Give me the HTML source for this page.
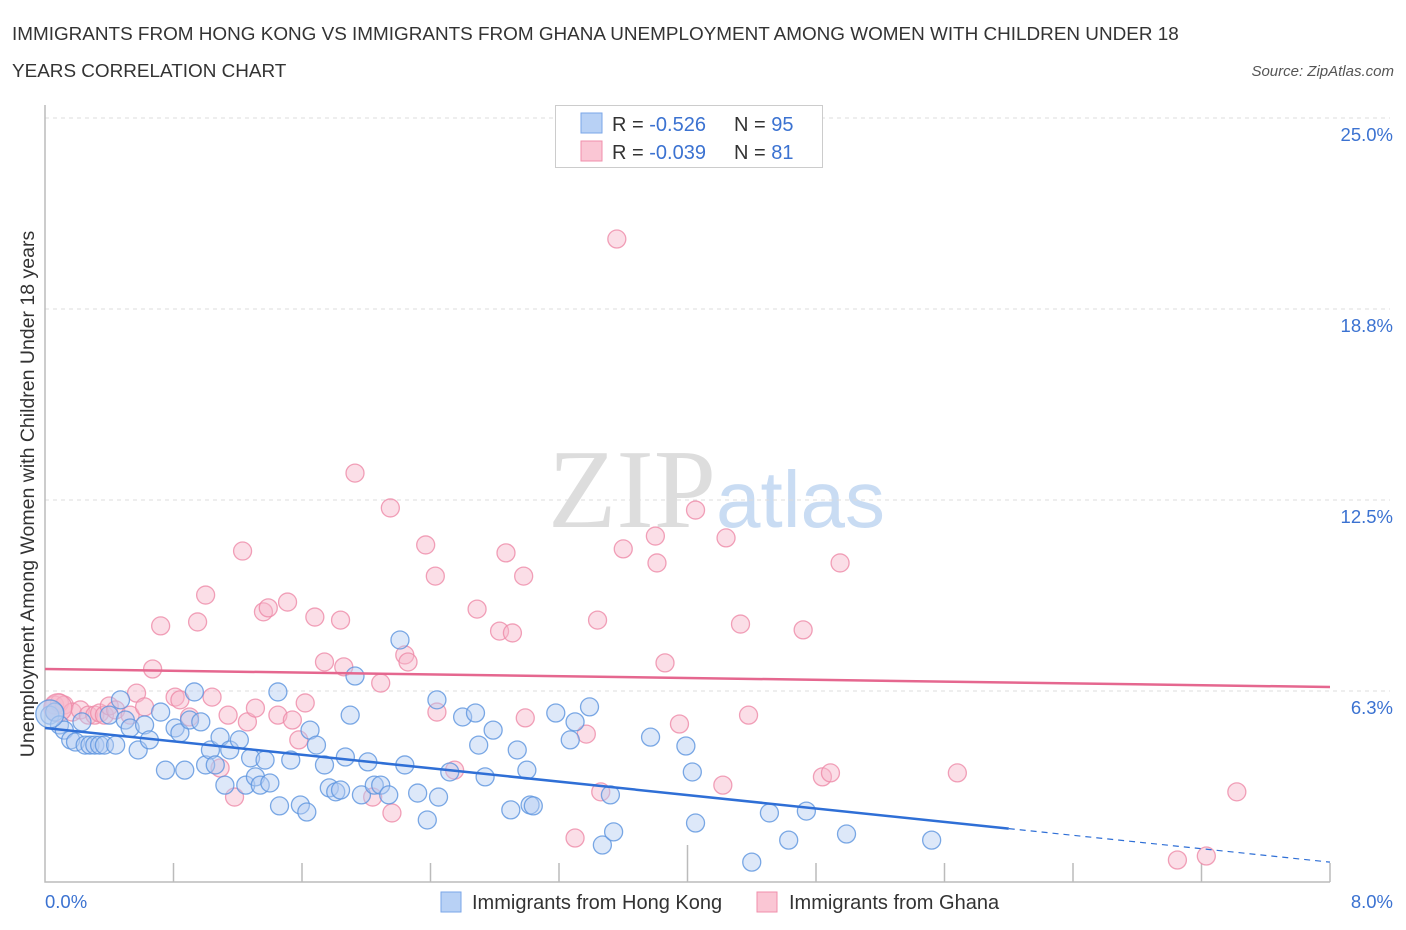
<!DOCTYPE html>
<html><head><meta charset="utf-8">
<style>
body{margin:0;background:#fff;font-family:"Liberation Sans",sans-serif;}
svg{display:block}
</style></head>
<body>
<svg id="chart" width="1406" height="930" xmlns="http://www.w3.org/2000/svg">
<text x="12" y="40" font-size="18.9" fill="#333">IMMIGRANTS FROM HONG KONG VS IMMIGRANTS FROM GHANA UNEMPLOYMENT AMONG WOMEN WITH CHILDREN UNDER 18</text>
<text x="12" y="77" font-size="18.9" fill="#333">YEARS CORRELATION CHART</text>
<text x="1394" y="76" font-size="15" fill="#555" font-style="italic" text-anchor="end">Source: ZipAtlas.com</text>
<text x="716" y="527" font-size="112" fill="#ddd" text-anchor="end" font-family="Liberation Serif,serif">ZIP</text>
<text x="716" y="527" font-size="80" fill="#c9dcf3">atlas</text>
<g id="grid"></g>
<g id="axes"></g>
<g id="pts"></g>
<g id="lines"></g>
<text transform="translate(34,494) rotate(-90)" font-size="19.5" fill="#333" text-anchor="middle">Unemployment Among Women with Children Under 18 years</text>
<g>
<rect x="555.5" y="105.5" width="267" height="62" fill="#fff" stroke="#ccc"/>
<rect x="581" y="113" width="21" height="20" fill="#b8d1f5" stroke="#7aa6e8"/>
<rect x="581" y="141" width="21" height="20" fill="#fac6d4" stroke="#f08fab"/>
<text x="612" y="131" font-size="20" fill="#333">R = <tspan fill="#3b72d1">-0.526</tspan><tspan x="734">N = </tspan><tspan fill="#3b72d1">95</tspan></text>
<text x="612" y="159" font-size="20" fill="#333">R = <tspan fill="#3b72d1">-0.039</tspan><tspan x="734">N = </tspan><tspan fill="#3b72d1"> 81</tspan></text>
</g>
<g>
<rect x="441" y="892" width="20" height="20" fill="#b8d1f5" stroke="#7aa6e8"/>
<text x="472" y="909" font-size="20" fill="#333">Immigrants from Hong Kong</text>
<rect x="757" y="892" width="20" height="20" fill="#fac6d4" stroke="#f08fab"/>
<text x="789" y="909" font-size="20" fill="#333">Immigrants from Ghana</text>
</g>
</svg>
<script>
const yTicks=[6.25,12.5,18.75,25];
const yTickLabels=["6.3%","12.5%","18.8%","25.0%"];
const xTickLabels=["0.0%","8.0%"];
const hkX=[0.03,0.06,0.09,0.12,0.16,0.19,0.25,0.28,0.31,0.34,0.37,0.44,0.23,0.40,0.50,0.53,0.47,0.58,0.62,0.65,0.72,0.75,0.81,0.84,0.87,0.90,0.93,0.97,1.00,1.03,1.06,1.09,1.12,1.15,1.21,1.25,1.28,1.31,1.34,1.37,1.40,1.45,1.46,1.53,1.59,1.63,1.65,1.69,1.74,1.77,1.81,1.84,1.87,1.90,1.93,1.97,2.01,2.05,2.09,2.14,2.21,2.24,2.32,2.38,2.44,2.45,2.52,2.60,2.68,2.70,2.74,2.79,2.90,2.94,3.00,3.02,3.04,3.18,3.27,3.30,3.39,3.47,3.52,3.54,3.77,3.99,4.03,4.05,4.40,4.51,4.63,4.74,4.99,5.52,0.03];
const hkY=[5.46,5.56,5.14,4.97,4.65,4.58,4.48,4.48,4.48,4.48,4.48,4.48,5.24,5.46,5.30,5.04,5.96,4.32,5.14,4.65,5.56,3.66,5.04,4.88,3.66,5.30,6.22,5.24,3.83,4.32,3.83,4.74,3.17,4.32,4.65,3.17,4.06,3.44,3.17,3.99,3.24,6.22,2.49,3.99,2.52,2.29,4.97,4.48,3.83,3.08,2.95,3.01,4.09,5.46,6.74,2.85,3.93,3.17,3.17,2.85,7.92,3.83,2.91,2.03,5.96,2.78,3.60,5.40,5.53,4.48,3.44,4.97,2.36,4.32,3.66,2.52,2.49,5.53,4.65,5.24,5.73,1.21,2.85,1.64,4.74,4.45,3.60,1.93,0.65,2.26,1.37,2.32,1.57,1.37,5.5];
const ghX=[0.06,0.09,0.12,0.17,0.22,0.27,0.31,0.34,0.37,0.40,0.44,0.53,0.57,0.62,0.67,0.72,0.81,0.84,0.90,0.95,1.00,1.04,1.09,1.14,1.18,1.23,1.26,1.31,1.36,1.39,1.45,1.51,1.54,1.58,1.62,1.68,1.74,1.84,1.86,1.93,2.04,2.09,2.15,2.16,2.24,2.26,2.37,2.43,2.44,2.55,2.69,2.83,2.87,2.91,2.98,2.99,3.30,3.37,3.44,3.46,3.56,3.60,3.80,3.81,3.86,3.95,4.05,4.22,4.24,4.33,4.38,4.72,4.84,4.89,4.95,5.68,7.05,7.23,7.42,0.08];
const ghY=[5.79,5.86,5.79,5.56,5.63,5.46,5.46,5.53,5.46,5.76,5.63,5.46,6.18,5.73,6.97,8.38,6.05,5.96,5.40,8.51,9.39,6.05,3.73,5.46,2.78,10.83,5.24,5.69,8.84,8.97,5.46,9.16,5.30,4.65,5.86,8.67,7.20,8.57,7.04,13.38,2.78,6.51,12.24,2.26,7.43,7.20,11.03,10.01,5.56,3.66,8.93,8.21,10.77,8.15,10.01,5.37,1.44,4.84,8.57,2.95,21.04,10.90,11.32,10.44,7.17,5.17,12.17,3.17,11.26,8.44,5.46,8.25,3.44,3.57,10.44,3.57,0.72,0.85,2.95,5.7];
const hkTrend=[5.04,0.65]; // y at x=0 and x=8
const hkSolidEnd=6.0;
const ghTrend=[6.97,6.38];

const NS="http://www.w3.org/2000/svg";
const X0=45,X1=1330,Y0=882,Y25=118;
const sx=v=>X0+(v/8)*(X1-X0);
const sy=v=>Y0-(v/25)*(Y0-Y25);
function mk(tag,attrs,parent){const e=document.createElementNS(NS,tag);for(const k in attrs)e.setAttribute(k,attrs[k]);parent.appendChild(e);return e;}
const grid=document.getElementById('grid'),axes=document.getElementById('axes'),pts=document.getElementById('pts'),lines=document.getElementById('lines');
yTicks.forEach((t,i)=>{
  const l=mk('line',{x1:X0,x2:X1+60,y1:sy(t),y2:sy(t),stroke:'#ddd','stroke-dasharray':'4,4'},grid);
  
  
  const tx=mk('text',{x:1393,y:sy(t)+23,'font-size':18.5,fill:'#3b72d1','text-anchor':'end'},axes);
  tx.textContent=yTickLabels[i];
  
  
});
const ax=mk('path',{d:`M${X0},105 V${Y0} H${X1}`,fill:'none',stroke:'#bbb','stroke-width':1.5},axes);


for(let i=1;i<=10;i++){
  const x=sx(i*0.8);
  const tk=mk('line',{x1:x,x2:x,y1:Y0,y2:i==5?845:863,stroke:'#bbb','stroke-width':1.5},axes);
  
  
}
const xl0=mk('text',{x:45,y:908,'font-size':18.5,fill:'#3b72d1'},axes);xl0.textContent=xTickLabels[0];


const xl1=mk('text',{x:1393,y:908,'font-size':18.5,fill:'#3b72d1','text-anchor':'end'},axes);xl1.textContent=xTickLabels[1];


function dots(xs,ys,fill,stroke,name){
  xs.forEach((v,i)=>{
    const big=i==xs.length-1;
    const c=mk('circle',{cx:sx(v),cy:sy(ys[i]),r:big?14:9,fill:fill,'fill-opacity':big?0.6:0.45,stroke:stroke,'stroke-width':1.3,'stroke-opacity':0.8},pts);
    
    
  });
}
dots(ghX,ghY,'#f7b6c9','#ee8aa8','point-ghana');
dots(hkX,hkY,'#b3cdf2','#5b93de','point-hong-kong');
const hkAt=x=>hkTrend[0]+(hkTrend[1]-hkTrend[0])*x/8;
const l1=mk('line',{x1:sx(0),y1:sy(hkAt(0)),x2:sx(hkSolidEnd),y2:sy(hkAt(hkSolidEnd)),stroke:'#2f6fd6','stroke-width':2.5},lines);


const l2=mk('line',{x1:sx(hkSolidEnd),y1:sy(hkAt(hkSolidEnd)),x2:sx(8),y2:sy(hkAt(8)),stroke:'#2f6fd6','stroke-width':1.2,'stroke-dasharray':'6,5'},lines);


const l3=mk('line',{x1:sx(0),y1:sy(ghTrend[0]),x2:sx(8),y2:sy(ghTrend[1]),stroke:'#e5678f','stroke-width':2.5},lines);


</script>
</body></html>
